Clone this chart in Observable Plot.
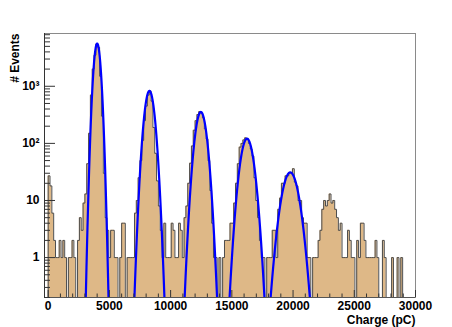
<!DOCTYPE html>
<html><head><meta charset="utf-8">
<script src="https://cdn.jsdelivr.net/npm/d3@7"></script>
<script src="https://cdn.jsdelivr.net/npm/@observablehq/plot@0.6"></script>
<style>html,body{margin:0;padding:0;background:#fff;}</style>
</head><body><div id="chart"></div>
<script>
// Histogram: bins of 150 pC from -300 to 30000
const binLow = -300;
const binWidth = 150;
const counts = [
  0, 0,
  27,18,6,2,1,1,2,1,2,1,
  0,1,1,2,1,0,2,5,3,9,
  13,44,150,700,2000,3500,5500,4800,1500,300,
  30,5,3,1,3,3,1,1,0,1,
  4,4,0,1,1,1,1,6,10,25,
  50,113,250,450,700,830,550,190,67,22,
  8,3,1,4,1,1,1,4,3,1,
  1,4,3,1,5,8,20,45,90,170,
  250,320,360,340,280,180,120,50,15,4,
  1,1,0,1,0,1,2,2,2,4,
  4,9,20,44,86,100,115,125,120,100,
  80,60,25,10,5,2,1,1,0,1,
  1,1,3,3,1,7,11,20,20,27,
  27,31,30,36,21,18,10,10,5,4,
  4,1,1,0,1,1,1,2,3,7,
  10,8,10,13,9,10,7,5,3,4,
  1,1,1,3,2,1,1,0,2,1,
  4,4,2,1,1,1,1,1,2,1,
  0,0,2,1,0,0,0,1,0,0,
  1,0,1,0,0,0,0,0,0,0
];
// Gaussian fit parameters
const fitAmp   = [5600, 830, 355, 121, 31];
const fitMean  = [4000, 8270, 12470, 16240, 19770];
const fitSigma = [205, 300, 342, 398, 504];

const xMajorTicks = [0, 5000, 10000, 15000, 20000, 25000, 30000];
const xMinorTicks = [1000,2000,3000,4000,6000,7000,8000,9000,11000,12000,13000,14000,16000,17000,18000,19000,21000,22000,23000,24000,26000,27000,28000,29000];
const yMajorTicks = [1, 10, 100, 1000];
const yMajorLabels = ["1", "10", "10²", "10³"];
const yMinorTicks = [0.2,0.3,0.4,0.5,0.6,0.7,0.8,0.9,2,3,4,5,6,7,8,9,20,30,40,50,60,70,80,90,200,300,400,500,600,700,800,900,2000,3000,4000,5000,6000,7000,8000];
const xTitle = "Charge (pC)";
const yTitle = "# Events";

const yFloor = 0.2;
const yTop = 8400;
const xEnd = 30000;

const steps = counts.map((c, k) => ({x: binLow + k * binWidth, y: Math.max(c, yFloor)}));
steps.push({x: xEnd, y: yFloor});

const fitPts = [];
fitAmp.forEach((a, j) => {
  const m = fitMean[j], s = fitSigma[j];
  for (let t = -6; t <= 6.0001; t += 0.05) {
    fitPts.push({fit: j, x: m + t * s, y: a * Math.exp(-t * t / 2)});
  }
});

const labelMap = new Map(yMajorTicks.map((d, i) => [d, yMajorLabels[i]]));
const font = "Liberation Sans, Arial, Helvetica, sans-serif";

const chart = Plot.plot({
  width: 452,
  height: 327,
  marginLeft: 44,
  marginRight: 37,
  marginTop: 33,
  marginBottom: 30,
  style: {fontFamily: font, background: "#fff", color: "#000"},
  x: {domain: [binLow, xEnd]},
  y: {type: "log", domain: [yFloor, yTop]},
  marks: [
    Plot.areaY(steps, {x: "x", y1: yFloor, y2: "y", curve: "step-after", fill: "#deb887"}),
    Plot.line(steps, {x: "x", y: "y", curve: "step-after", stroke: "#4d4d4d", strokeWidth: 1}),
    Plot.line(fitPts, {x: "x", y: "y", z: "fit", stroke: "#0000ff", strokeWidth: 2.2, clip: true}),
    Plot.frame({stroke: "#8a8a8a", strokeWidth: 1}),
    Plot.ruleX([binLow], {stroke: "#333"}),
    Plot.ruleY([yFloor], {stroke: "#555"}),
    Plot.axisY({ticks: yMajorTicks, tickSize: -11, tickFormat: () => "", label: null, stroke: "#333"}),
    Plot.axisY({ticks: yMinorTicks, tickSize: -6, tickFormat: () => "", label: null, stroke: "#333"}),
    Plot.axisY({ticks: yMajorTicks, tickSize: 0, tickPadding: 5, tickFormat: d => labelMap.get(d), label: null, fontSize: 12, fontWeight: "bold"}),
    Plot.axisX({ticks: xMajorTicks, tickSize: -7, tickFormat: () => "", label: null, stroke: "#333"}),
    Plot.axisX({ticks: xMinorTicks, tickSize: -3.5, tickFormat: () => "", label: null, stroke: "#333"}),
    Plot.axisX({ticks: xMajorTicks, tickSize: 0, tickPadding: 4, tickFormat: d3.format("d"), label: null, fontSize: 12, fontWeight: "bold"}),
    Plot.text([xTitle], {frameAnchor: "bottom-right", text: d => d, dy: 26, lineAnchor: "bottom", textAnchor: "end", fontSize: 12, fontWeight: "bold"}),
    Plot.text([yTitle], {frameAnchor: "top-left", text: d => d, dx: -29, rotate: -90, textAnchor: "end", lineAnchor: "middle", fontSize: 12, fontWeight: "bold"})
  ]
});
document.getElementById("chart").appendChild(chart);
</script>
</body></html>
